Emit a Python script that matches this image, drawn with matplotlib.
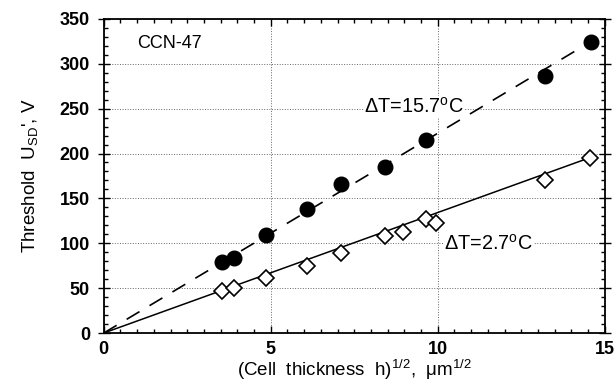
import numpy as np
import matplotlib.pyplot as plt
from matplotlib.ticker import MultipleLocator

plt.rcParams['font.family'] = ['Liberation Sans', 'DejaVu Sans']
plt.rcParams['mathtext.fontset'] = 'custom'
plt.rcParams['mathtext.rm'] = 'Liberation Sans'
plt.rcParams['mathtext.it'] = 'Liberation Sans'

# dT = 15.7 C (filled circles)
x_hot = [3.55, 3.9, 4.87, 6.07, 7.1, 8.41, 9.64, 13.2, 14.58]
y_hot = [79.5, 84, 109, 138, 166, 185, 215, 286, 324]
# dT = 2.7 C (open diamonds)
x_cold = [3.55, 3.9, 4.87, 6.07, 7.1, 8.43, 8.96, 9.64, 9.94, 13.2, 14.57]
y_cold = [47, 50.5, 61.6, 74.7, 89, 108.5, 112, 126.7, 123, 170.5, 195]
# straight fits through origin
fit_x = [0, 14.6]
fit_hot = [0, 325]
fit_cold = [0, 196]

fig = plt.figure(figsize=(6.14, 3.85), dpi=100)
ax = fig.add_axes([0.169, 0.135, 0.816, 0.816])

ax.plot(fit_x, fit_hot, color='black', lw=1.2, dashes=(9, 7), zorder=2)
ax.plot(fit_x, fit_cold, color='black', lw=1.1, zorder=2)
ax.plot(x_hot, y_hot, 'o', color='black', ms=10.5, zorder=3)
ax.plot(x_cold, y_cold, 'D', mfc='white', mec='black', mew=1.2, ms=8.5, zorder=3)

ax.set_xlim(0, 15)
ax.set_ylim(0, 350)
ax.xaxis.set_major_locator(MultipleLocator(5))
ax.xaxis.set_minor_locator(MultipleLocator(0.5))
ax.yaxis.set_major_locator(MultipleLocator(50))
ax.yaxis.set_minor_locator(MultipleLocator(10))
ax.tick_params(which='both', direction='in', top=True, right=True, width=1)
ax.tick_params(which='major', length=5, labelsize=13, pad=6)
ax.tick_params(which='minor', length=3)
ax.tick_params(axis='y', which='major', direction='inout', length=8)
for lab in ax.get_xticklabels() + ax.get_yticklabels():
    lab.set_fontweight('bold')
for s in ax.spines.values():
    s.set_linewidth(1.3)

ax.grid(True, which='major', color='black', ls=':', lw=0.7, alpha=0.6)

ax.text(1.0, 323, 'CCN-47', fontsize=13, va='center')
ax.text(7.8, 252, 'ΔT=15.7$^{\\rm o}$C', fontsize=14.3, va='center',
        bbox=dict(fc='white', ec='none', pad=0.5))
ax.text(10.2, 100, 'ΔT=2.7$^{\\rm o}$C', fontsize=14.3, va='center',
        bbox=dict(fc='white', ec='none', pad=0.5))

ax.set_xlabel('(Cell  thickness  h)$^{1/2}$,  μm$^{1/2}$', fontsize=13.5, labelpad=0)
ax.set_ylabel("Threshold  U$_{SD}$', V", fontsize=13.5, labelpad=14)

fig.savefig('out.png', dpi=100)
